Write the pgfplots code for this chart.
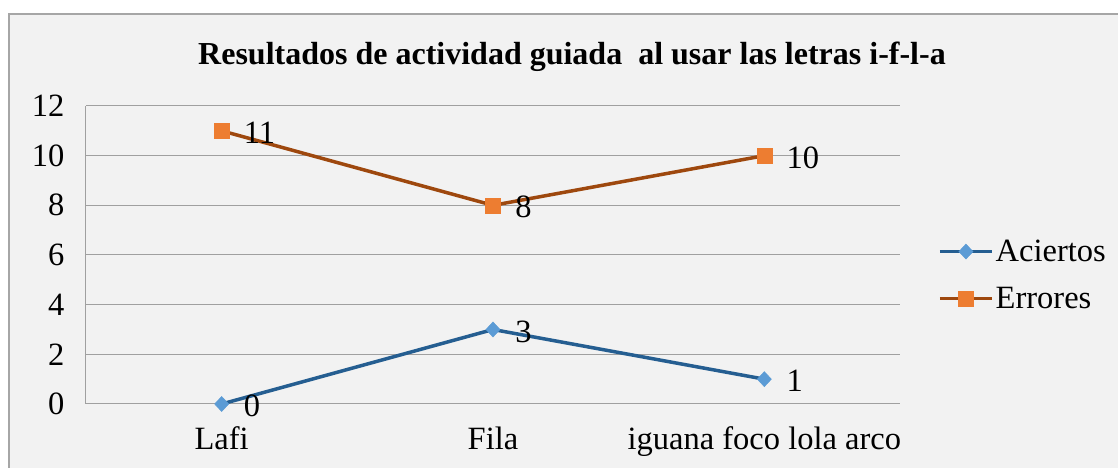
\documentclass[border=0pt]{standalone}
\usepackage{fontspec}
\setmainfont{Liberation Serif}
\usepackage{pgfplots}
\pgfplotsset{compat=1.18}
\definecolor{bgc}{HTML}{F2F2F2}
\definecolor{bordc}{HTML}{A6A6A6}
\definecolor{gridc}{HTML}{A0A0A0}
\definecolor{acline}{HTML}{255E91}
\definecolor{acmark}{HTML}{5B9BD5}
\definecolor{erline}{HTML}{9E480E}
\definecolor{ermark}{HTML}{ED7D31}
\newcommand\chartfont{\fontsize{32.5bp}{38bp}\selectfont}
\begin{document}
\begin{tikzpicture}[x=1bp,y=1bp]
% page = 1118x468 px, axis box south west at pixel (86,404)
\path[use as bounding box] (-86,-64) rectangle (1032,404);
\fill[white] (-86,-64) rectangle (1032,404);
\fill[bgc] (-77,-70) rectangle (1040,390);
\draw[bordc, line width=1.5bp] (-77,-70) -- (-77,390) -- (1040,390);
\begin{axis}[
  at={(0,0)}, anchor=south west,
  scale only axis,
  width=814bp, height=298bp,
  xmin=-0.5, xmax=2.5,
  ymin=0, ymax=12,
  xtick={0,1,2},
  xticklabels={Lafi,Fila,iguana foco lola arco},
  ytick={0,2,...,12},
  axis x line*=bottom, axis y line*=left,
  axis line style={draw=gridc, line width=1bp, -},
  major tick length=0pt,
  ymajorgrids,
  grid style={draw=gridc, line width=1bp},
  tick label style={font=\chartfont},
  /pgf/number format/assume math mode=true,
  xticklabel style={yshift=-19bp},
  yticklabel style={xshift=-18bp},
  clip=false,
  legend style={at={(1.043,0.433)}, anchor=west, draw=none, fill=none,
    font=\chartfont, row sep=20bp, nodes={inner sep=2bp}},
  legend cell align=left,
  legend image code/.code={\draw[mark repeat=2,mark phase=2,#1]
    plot coordinates {(0bp,0bp) (26bp,0bp) (52bp,0bp)};},
  nodes near coords,
  every node near coord/.append style={anchor=west, inner sep=0pt,
    xshift=22bp, yshift=-2bp, text=black, font=\chartfont},
]
\addplot[color=acline, line width=3.5bp, mark=diamond*,
  mark size=7.5bp, mark options={xscale=1.25, fill=acmark, draw=acmark, line width=0.5bp}]
  coordinates {(0,0) (1,3) (2,1)};
\addplot[color=erline, line width=3.5bp, mark=square*,
  mark size=7.5bp, mark options={fill=ermark, draw=ermark, line width=0.5bp}]
  coordinates {(0,11) (1,8) (2,10)};
\legend{Aciertos,Errores}
\end{axis}
\node[font=\fontsize{32bp}{38bp}\selectfont\bfseries] at (486,347)
  {Resultados de actividad guiada\ \ al usar las letras i-f-l-a};
\end{tikzpicture}
\end{document}
